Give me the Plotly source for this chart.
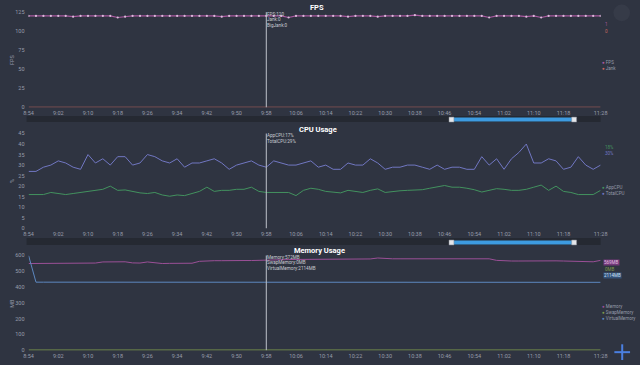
import plotly.graph_objects as go

# ---------------- data ----------------
times = [f"{(534 + 2 * k) // 60}:{(534 + 2 * k) % 60:02d}" for k in range(78)]
tick_idx = [0, 4, 8, 12, 16, 20, 24, 28, 32, 36, 40, 44, 48, 52, 56, 60, 64, 68, 72, 77]
tick_labels = ["8:54", "9:02", "9:10", "9:18", "9:26", "9:34", "9:42", "9:50", "9:58", "10:06",
               "10:14", "10:22", "10:30", "10:38", "10:46", "10:54", "11:02", "11:10", "11:18", "11:28"]

fps = [120, 120, 120, 120, 120, 120, 119, 120, 120, 120,
       120, 120, 118, 119, 120, 120, 120, 120, 120, 120,
       120, 120, 120, 120, 120, 120, 119, 120, 120, 120,
       120, 120, 120, 120, 120, 118, 120, 120, 120, 120,
       120, 120, 120, 119, 120, 120, 120, 119, 120, 120,
       120, 120, 121, 120, 120, 120, 120, 120, 120, 120,
       120, 120, 118, 120, 120, 120, 120, 119, 120, 118,
       120, 120, 120, 120, 120, 120, 120, 120]
jank = [0, 0, 0, 0, 0, 0, 0, 0, 0, 0, 0, 0, 0, 0, 0, 0, 0, 0, 0, 0,
        0, 0, 0, 0, 0, 0, 0, 0, 0, 0, 0, 0, 0, 0, 0, 0, 0, 0, 0, 0,
        0, 0, 0, 0, 0, 0, 0, 0, 0, 0, 0, 0, 0, 0, 0, 0, 0, 0, 0, 0,
        0, 0, 0, 0, 0, 0, 0, 0, 0, 0, 0, 0, 0, 0, 0, 0, 0, 0]

total_cpu = [27, 27, 29, 30, 32, 31, 29, 28, 35, 31,
             33, 30, 34, 34, 30, 31, 35, 34, 32, 31,
             33, 29, 31, 31, 32, 33, 31, 28, 30, 31,
             32, 30, 29, 32, 31, 30, 30, 31, 32, 29,
             30, 28, 28, 31, 30, 30, 33, 31, 28, 29,
             29, 30, 30, 29, 28, 30, 28, 29, 29, 28,
             28, 34, 30, 33, 28, 33, 36, 40, 31, 31,
             33, 32, 28, 29, 34, 30, 28, 30]
app_cpu = [16, 16, 16, 17, 16.5, 16, 16.5, 17, 17.5, 18,
           18.5, 20, 18, 18.2, 17.5, 16.8, 16.5, 17, 15.8, 15.2,
           15.8, 15.5, 16.5, 17.5, 19.5, 17.5, 18, 18, 18.5, 18.5,
           19.5, 17.5, 17, 17, 17, 17, 15.5, 18, 19, 18.5,
           17.5, 17, 16.8, 18, 17.5, 17, 18, 18.7, 17, 17.5,
           17.8, 18, 18, 18.3, 19, 19.5, 20.3, 19.5, 19.5, 19,
           18.3, 17.2, 18, 18.8, 18.5, 18, 18, 18.5, 19.5, 20.5,
           18, 20, 17.5, 17, 16, 16, 16, 18]

memory = [549, 549, 549, 550, 549, 550, 551, 550, 551, 552,
          559, 560, 559, 560, 553, 552, 559, 553, 549, 550,
          549, 550, 551, 563, 566, 567, 567, 566, 567, 568,
          568, 570, 572, 573, 573, 574, 575, 575, 576, 577,
          577, 576, 577, 578, 577, 577, 578, 584, 580, 579,
          579, 579, 580, 579, 580, 579, 580, 579, 579, 580,
          580, 579, 579, 569, 566, 565, 565, 566, 565, 564,
          565, 566, 565, 564, 559, 558, 560, 569]
swap_memory = [0, 0, 0, 0, 0, 0, 0, 0, 0, 0, 0, 0, 0, 0, 0, 0, 0, 0, 0, 0,
               0, 0, 0, 0, 0, 0, 0, 0, 0, 0, 0, 0, 0, 0, 0, 0, 0, 0, 0, 0,
               0, 0, 0, 0, 0, 0, 0, 0, 0, 0, 0, 0, 0, 0, 0, 0, 0, 0, 0, 0,
               0, 0, 0, 0, 0, 0, 0, 0, 0, 0, 0, 0, 0, 0, 0, 0, 0, 0]
virtual_memory = [600, 431, 431, 431, 431, 431, 431, 431, 431, 431,
                  431, 431, 431, 431, 431, 431, 431, 431, 431, 431,
                  431, 431, 431, 431, 431, 431, 431, 431, 431, 431,
                  431, 431, 431, 431, 431, 431, 431, 431, 431, 431,
                  431, 431, 431, 431, 431, 431, 431, 431, 431, 431,
                  431, 431, 431, 431, 431, 431, 431, 431, 431, 431,
                  431, 431, 431, 431, 431, 431, 431, 431, 431, 431,
                  431, 431, 431, 431, 431, 428, 429, 430]

cross_time = "9:58"

# ---------------- style ----------------
BG = "#2f3441"
TICK = "#979caa"
C_FPS = "#a9589f"
C_JANK = "#c8675f"
C_TOTAL = "#7177c2"
C_APP = "#43925f"
C_MEM = "#9b5097"
C_SWAP = "#7f9a4c"
C_VIRT = "#5d88c0"
FONT = "Roboto, Open Sans, sans-serif"

W, H = 640, 365


def px(x):
    return x / W


def py(y):
    return 1 - y / H


fig = go.Figure()

fig.add_trace(go.Scatter(x=times, y=fps, mode="lines+markers", line=dict(color=C_FPS, width=1.2),
                         marker=dict(size=2.2, color="#dcbcdc"), xaxis="x", yaxis="y", name="FPS"))
fig.add_trace(go.Scatter(x=times, y=jank, mode="lines", line=dict(color=C_JANK, width=1.2),
                         xaxis="x", yaxis="y", name="Jank"))
fig.add_trace(go.Scatter(x=times, y=total_cpu, mode="lines", line=dict(color=C_TOTAL, width=1),
                         xaxis="x2", yaxis="y2", name="TotalCPU"))
fig.add_trace(go.Scatter(x=times, y=app_cpu, mode="lines", line=dict(color=C_APP, width=1),
                         xaxis="x2", yaxis="y2", name="AppCPU"))
fig.add_trace(go.Scatter(x=times, y=memory, mode="lines", line=dict(color=C_MEM, width=1),
                         xaxis="x3", yaxis="y3", name="Memory"))
fig.add_trace(go.Scatter(x=times, y=swap_memory, mode="lines", line=dict(color=C_SWAP, width=1.5),
                         xaxis="x3", yaxis="y3", name="SwapMemory"))
fig.add_trace(go.Scatter(x=times, y=virtual_memory, mode="lines", line=dict(color=C_VIRT, width=1),
                         xaxis="x3", yaxis="y3", name="VirtualMemory"))

xdom = [px(24), px(607)]
xcommon = dict(type="category", domain=xdom, range=[0, len(times) - 1], tickmode="array",
               tickvals=[times[i] for i in tick_idx], ticktext=tick_labels, showgrid=False,
               zeroline=False, showline=False, ticks="", tickfont=dict(size=5.5, color=TICK, family=FONT),
               ticklabelstandoff=1)
ycommon = dict(showgrid=False, zeroline=False, showline=False, ticks="",
               tickfont=dict(size=5.5, color=TICK, family=FONT), ticklabelstandoff=3)

fig.update_layout(
    width=W, height=H, autosize=False,
    margin=dict(l=0, r=0, t=0, b=0),
    paper_bgcolor=BG, plot_bgcolor=BG,
    showlegend=False,
    font=dict(family=FONT, color=TICK),
    xaxis=dict(**xcommon, anchor="y"),
    xaxis2=dict(**xcommon, anchor="y2"),
    xaxis3=dict(**xcommon, anchor="y3"),
    yaxis=dict(**ycommon, domain=[py(106), py(9.3)], range=[0, 125], tickvals=[0, 25, 50, 75, 100, 125], anchor="x"),
    yaxis2=dict(**ycommon, domain=[py(229), py(132.7)], range=[0, 45], dtick=5, anchor="x2"),
    yaxis3=dict(**ycommon, domain=[py(353), py(256.7)], range=[0, 600], dtick=100, anchor="x3"),
)

shapes = []
# crosshair lines
for xr, yr in (("x", "y"), ("x2", "y2"), ("x3", "y3")):
    shapes.append(dict(type="line", xref=xr, yref=yr + " domain", x0=cross_time, x1=cross_time,
                       y0=0, y1=1, line=dict(color="#bfc2ca", width=1)))
# zoom slider bars
for (yt, yb, bt, bb) in ((115, 121, 116.5, 120.5), (239, 246, 241.5, 245.5)):
    shapes.append(dict(type="rect", xref="paper", yref="paper", x0=px(22), x1=px(607),
                       y0=py(yb), y1=py(yt), fillcolor="#252932", line=dict(width=0), layer="below"))
    shapes.append(dict(type="rect", xref="paper", yref="paper", x0=px(455), x1=px(580),
                       y0=py(bb), y1=py(bt), fillcolor="#3d9be0", line=dict(width=0)))
    for hx in (455, 580):
        shapes.append(dict(type="rect", xref="paper", yref="paper", x0=px(hx - 2.5), x1=px(hx + 2.5),
                           y0=py(bb + 0.5), y1=py(bt - 0.5), fillcolor="#e4e6ea",
                           line=dict(color="#8a8f99", width=0.5)))
# top-right button circle
shapes.append(dict(type="circle", xref="paper", yref="paper", x0=px(620), x1=px(637),
                   y0=py(18.5), y1=py(1.5), fillcolor="#363b48", line=dict(width=0)))
# bottom-right blue plus
shapes.append(dict(type="line", xref="paper", yref="paper", x0=px(621), x1=px(637),
                   y0=py(355), y1=py(355), line=dict(color="#4b7fe0", width=2)))
shapes.append(dict(type="line", xref="paper", yref="paper", x0=px(629), x1=px(629),
                   y0=py(347), y1=py(363), line=dict(color="#4b7fe0", width=2)))
fig.update_layout(shapes=shapes)

ann = []


def text(x, y, s, size=6, color=TICK, xanchor="left", bold=False, bg=None, angle=0):
    d = dict(xref="paper", yref="paper", x=px(x), y=py(y), text=("<b>%s</b>" % s) if bold else s,
             showarrow=False, xanchor=xanchor, yanchor="middle", textangle=angle,
             font=dict(size=size, color=color, family=FONT))
    if bg:
        d.update(bgcolor=bg, borderpad=0)
    ann.append(d)


# titles
text(318, 5, "FPS", size=7.5, color="#ffffff", xanchor="center", bold=True)
text(319, 128.5, "CPU Usage", size=7.5, color="#ffffff", xanchor="center", bold=True)
text(320, 252, "Memory Usage", size=7.5, color="#ffffff", xanchor="center", bold=True)
# y-axis names
text(7, 57, "FPS", size=5.5, xanchor="center", angle=-90)
text(7, 181, "%", size=5.5, xanchor="center", angle=-90)
text(7, 305, "MB", size=5.5, xanchor="center", angle=-90)

# crosshair tooltips
TT = "#c8cbd2"
text(265, 11.5, "FPS:120", size=4.6, color=TT)
text(265, 17, "Jank:0", size=4.6, color=TT)
text(265, 22.5, "BigJank:0", size=4.6, color=TT)
text(265, 135, "AppCPU:17%", size=4.6, color=TT)
text(265, 140.5, "TotalCPU:29%", size=4.6, color=TT)
text(265, 258.5, "Memory:572MB", size=4.6, color=TT)
text(265, 264, "SwapMemory:0MB", size=4.6, color=TT)
text(265, 269.5, "VirtualMemory:2114MB", size=4.6, color=TT)

# end labels
text(609, 22, "1", size=4.5, color=C_FPS)
text(609, 28.5, "0", size=4.5, color=C_JANK)
text(609, 147, "18%", size=4.5, color=C_APP)
text(609, 153, "30%", size=4.5, color=C_TOTAL)
text(609, 264, "569MB", size=4.5, color="#e0c0e0", bg="#74397a")
text(609, 270.5, "0MB", size=4.5, color=C_SWAP)
text(609, 277, "2114MB", size=4.5, color="#d0e0f4", bg="#34527a")

# legends
def legend_item(y, label, color):
    ann.append(dict(xref="paper", yref="paper", x=px(606), y=py(y), showarrow=False,
                    xanchor="left", yanchor="middle",
                    text="<span style='color:%s'>●</span> %s" % (color, label),
                    font=dict(size=4.5, color=TICK, family=FONT)))


legend_item(61, "FPS", C_FPS)
legend_item(66.5, "Jank", C_JANK)
legend_item(188, "AppCPU", C_APP)
legend_item(193.5, "TotalCPU", C_TOTAL)
legend_item(309, "Memory", C_MEM)
legend_item(315, "SwapMemory", C_SWAP)
legend_item(321, "VirtualMemory", C_VIRT)

fig.update_layout(annotations=ann)

fig.write_html("out.html", config={"displayModeBar": False},
               post_script="document.body.style.margin='0';document.body.style.overflow='hidden';")
